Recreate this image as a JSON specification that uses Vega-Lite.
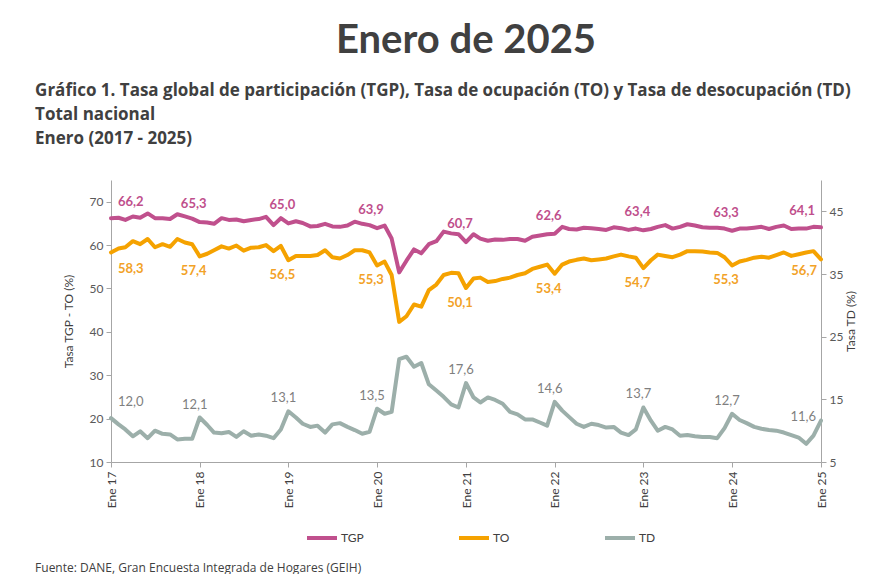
{
  "$schema": "https://vega.github.io/schema/vega-lite/v6.json",
  "background": "white",
  "padding": {"left": 35, "top": 21, "right": 2, "bottom": 0},
  "config": {
    "locale": {"number": {"decimal": ",", "thousands": ".", "grouping": [3], "currency": ["$", ""]}},
    "font": "Lato",
    "view": {"stroke": null},
    "concat": {"spacing": 0},
    "axis": {"grid": false, "domainColor": "#A6A6A6", "tickColor": "#A6A6A6", "labelColor": "#595959", "labelFontSize": 12, "titleColor": "#404040", "titleFontSize": 12, "titleFontWeight": "normal", "tickSize": 5}
  },
  "title": {"text": "Enero de 2025", "fontSize": 40, "font": "Lato", "fontWeight": "bold", "color": "#404040", "anchor": "middle", "dx": 20, "offset": 21},
  "resolve": {"scale": {"color": "independent"}, "legend": {"color": "independent"}},
  "vconcat": [
    {
      "title": {"text": "Fuente: DANE, Gran Encuesta Integrada de Hogares (GEIH)", "orient": "bottom", "anchor": "start", "fontSize": 12, "font": "Open Sans", "fontWeight": "normal", "color": "#404040", "offset": 17},
      "resolve": {"scale": {"color": "independent"}, "legend": {"color": "independent"}},
      "vconcat": [
        {
          "title": {"text": ["Gráfico 1. Tasa global de participación (TGP), Tasa de ocupación (TO) y Tasa de desocupación (TD)", "Total nacional", "Enero (2017 - 2025)"], "anchor": "start", "dx": -27, "fontSize": 17, "font": "Open Sans", "fontWeight": "bold", "lineHeight": 24, "color": "#404040", "offset": 32},
          "width": 710,
          "height": 282,
          "data": {
            "format": {"parse": {"fecha": "date:'%Y-%m'"}},
            "values": [
              {"fecha": "2017-01", "TGP": 66.2, "TO": 58.3, "TD": 12.0},
              {"fecha": "2017-02", "TGP": 66.3, "TO": 59.2, "TD": 11.0},
              {"fecha": "2017-03", "TGP": 65.8, "TO": 59.5, "TD": 10.2},
              {"fecha": "2017-04", "TGP": 66.6, "TO": 60.9, "TD": 9.1},
              {"fecha": "2017-05", "TGP": 66.3, "TO": 60.2, "TD": 9.9},
              {"fecha": "2017-06", "TGP": 67.3, "TO": 61.4, "TD": 8.8},
              {"fecha": "2017-07", "TGP": 66.2, "TO": 59.5, "TD": 10.0},
              {"fecha": "2017-08", "TGP": 66.2, "TO": 60.2, "TD": 9.5},
              {"fecha": "2017-09", "TGP": 66.0, "TO": 59.6, "TD": 9.4},
              {"fecha": "2017-10", "TGP": 67.1, "TO": 61.4, "TD": 8.6},
              {"fecha": "2017-11", "TGP": 66.6, "TO": 60.6, "TD": 8.7},
              {"fecha": "2017-12", "TGP": 66.1, "TO": 60.2, "TD": 8.7},
              {"fecha": "2018-01", "TGP": 65.3, "TO": 57.4, "TD": 12.1},
              {"fecha": "2018-02", "TGP": 65.2, "TO": 58.0, "TD": 10.9},
              {"fecha": "2018-03", "TGP": 64.9, "TO": 58.8, "TD": 9.7},
              {"fecha": "2018-04", "TGP": 66.2, "TO": 59.7, "TD": 9.6},
              {"fecha": "2018-05", "TGP": 65.8, "TO": 59.2, "TD": 9.8},
              {"fecha": "2018-06", "TGP": 65.9, "TO": 59.9, "TD": 9.0},
              {"fecha": "2018-07", "TGP": 65.5, "TO": 58.7, "TD": 9.9},
              {"fecha": "2018-08", "TGP": 65.8, "TO": 59.4, "TD": 9.2},
              {"fecha": "2018-09", "TGP": 66.0, "TO": 59.5, "TD": 9.4},
              {"fecha": "2018-10", "TGP": 66.5, "TO": 60.0, "TD": 9.2},
              {"fecha": "2018-11", "TGP": 64.6, "TO": 58.6, "TD": 8.8},
              {"fecha": "2018-12", "TGP": 66.2, "TO": 59.8, "TD": 10.2},
              {"fecha": "2019-01", "TGP": 65.0, "TO": 56.5, "TD": 13.1},
              {"fecha": "2019-02", "TGP": 65.5, "TO": 57.5, "TD": 12.1},
              {"fecha": "2019-03", "TGP": 65.1, "TO": 57.5, "TD": 11.1},
              {"fecha": "2019-04", "TGP": 64.3, "TO": 57.5, "TD": 10.6},
              {"fecha": "2019-05", "TGP": 64.4, "TO": 57.7, "TD": 10.8},
              {"fecha": "2019-06", "TGP": 64.9, "TO": 58.8, "TD": 9.7},
              {"fecha": "2019-07", "TGP": 64.3, "TO": 57.2, "TD": 11.0},
              {"fecha": "2019-08", "TGP": 64.2, "TO": 56.9, "TD": 11.2},
              {"fecha": "2019-09", "TGP": 64.5, "TO": 57.7, "TD": 10.6},
              {"fecha": "2019-10", "TGP": 65.4, "TO": 58.8, "TD": 10.1},
              {"fecha": "2019-11", "TGP": 64.9, "TO": 58.8, "TD": 9.5},
              {"fecha": "2019-12", "TGP": 64.6, "TO": 58.3, "TD": 9.8},
              {"fecha": "2020-01", "TGP": 63.9, "TO": 55.3, "TD": 13.5},
              {"fecha": "2020-02", "TGP": 64.5, "TO": 56.2, "TD": 12.7},
              {"fecha": "2020-03", "TGP": 61.5, "TO": 53.1, "TD": 13.0},
              {"fecha": "2020-04", "TGP": 53.7, "TO": 42.3, "TD": 21.4},
              {"fecha": "2020-05", "TGP": 56.4, "TO": 43.6, "TD": 21.8},
              {"fecha": "2020-06", "TGP": 59.0, "TO": 46.3, "TD": 20.2},
              {"fecha": "2020-07", "TGP": 58.1, "TO": 45.8, "TD": 20.8},
              {"fecha": "2020-08", "TGP": 60.2, "TO": 49.6, "TD": 17.4},
              {"fecha": "2020-09", "TGP": 60.9, "TO": 50.9, "TD": 16.4},
              {"fecha": "2020-10", "TGP": 63.1, "TO": 53.1, "TD": 15.4},
              {"fecha": "2020-11", "TGP": 62.7, "TO": 53.6, "TD": 14.2},
              {"fecha": "2020-12", "TGP": 62.5, "TO": 53.5, "TD": 13.7},
              {"fecha": "2021-01", "TGP": 60.7, "TO": 50.1, "TD": 17.6},
              {"fecha": "2021-02", "TGP": 62.5, "TO": 52.3, "TD": 15.3},
              {"fecha": "2021-03", "TGP": 61.5, "TO": 52.5, "TD": 14.5},
              {"fecha": "2021-04", "TGP": 61.0, "TO": 51.5, "TD": 15.3},
              {"fecha": "2021-05", "TGP": 61.3, "TO": 51.7, "TD": 14.9},
              {"fecha": "2021-06", "TGP": 61.2, "TO": 52.2, "TD": 14.3},
              {"fecha": "2021-07", "TGP": 61.4, "TO": 52.5, "TD": 13.0},
              {"fecha": "2021-08", "TGP": 61.4, "TO": 53.1, "TD": 12.6},
              {"fecha": "2021-09", "TGP": 61.0, "TO": 53.5, "TD": 11.8},
              {"fecha": "2021-10", "TGP": 61.9, "TO": 54.5, "TD": 11.8},
              {"fecha": "2021-11", "TGP": 62.2, "TO": 55.0, "TD": 11.3},
              {"fecha": "2021-12", "TGP": 62.5, "TO": 55.5, "TD": 10.8},
              {"fecha": "2022-01", "TGP": 62.6, "TO": 53.4, "TD": 14.6},
              {"fecha": "2022-02", "TGP": 64.2, "TO": 55.5, "TD": 13.2},
              {"fecha": "2022-03", "TGP": 63.7, "TO": 56.2, "TD": 12.2},
              {"fecha": "2022-04", "TGP": 63.6, "TO": 56.6, "TD": 11.1},
              {"fecha": "2022-05", "TGP": 64.0, "TO": 56.9, "TD": 10.6},
              {"fecha": "2022-06", "TGP": 63.9, "TO": 56.5, "TD": 11.1},
              {"fecha": "2022-07", "TGP": 63.7, "TO": 56.7, "TD": 10.9},
              {"fecha": "2022-08", "TGP": 63.5, "TO": 56.9, "TD": 10.5},
              {"fecha": "2022-09", "TGP": 64.1, "TO": 57.4, "TD": 10.6},
              {"fecha": "2022-10", "TGP": 63.9, "TO": 57.8, "TD": 9.7},
              {"fecha": "2022-11", "TGP": 63.5, "TO": 57.4, "TD": 9.3},
              {"fecha": "2022-12", "TGP": 63.8, "TO": 57.1, "TD": 10.2},
              {"fecha": "2023-01", "TGP": 63.4, "TO": 54.7, "TD": 13.7},
              {"fecha": "2023-02", "TGP": 63.7, "TO": 56.5, "TD": 11.6},
              {"fecha": "2023-03", "TGP": 64.2, "TO": 57.8, "TD": 10.0},
              {"fecha": "2023-04", "TGP": 64.6, "TO": 57.5, "TD": 10.6},
              {"fecha": "2023-05", "TGP": 63.8, "TO": 57.2, "TD": 10.2},
              {"fecha": "2023-06", "TGP": 64.2, "TO": 57.8, "TD": 9.2},
              {"fecha": "2023-07", "TGP": 64.8, "TO": 58.6, "TD": 9.3},
              {"fecha": "2023-08", "TGP": 64.5, "TO": 58.6, "TD": 9.1},
              {"fecha": "2023-09", "TGP": 64.1, "TO": 58.5, "TD": 9.0},
              {"fecha": "2023-10", "TGP": 64.0, "TO": 58.3, "TD": 9.0},
              {"fecha": "2023-11", "TGP": 64.0, "TO": 58.2, "TD": 8.8},
              {"fecha": "2023-12", "TGP": 63.8, "TO": 57.2, "TD": 10.4},
              {"fecha": "2024-01", "TGP": 63.3, "TO": 55.3, "TD": 12.7},
              {"fecha": "2024-02", "TGP": 63.8, "TO": 56.2, "TD": 11.7},
              {"fecha": "2024-03", "TGP": 63.8, "TO": 56.6, "TD": 11.2},
              {"fecha": "2024-04", "TGP": 64.0, "TO": 57.1, "TD": 10.6},
              {"fecha": "2024-05", "TGP": 64.2, "TO": 57.3, "TD": 10.3},
              {"fecha": "2024-06", "TGP": 63.7, "TO": 57.1, "TD": 10.1},
              {"fecha": "2024-07", "TGP": 64.2, "TO": 57.7, "TD": 10.0},
              {"fecha": "2024-08", "TGP": 64.5, "TO": 58.3, "TD": 9.7},
              {"fecha": "2024-09", "TGP": 63.7, "TO": 57.5, "TD": 9.3},
              {"fecha": "2024-10", "TGP": 63.8, "TO": 57.9, "TD": 8.9},
              {"fecha": "2024-11", "TGP": 63.8, "TO": 58.3, "TD": 7.9},
              {"fecha": "2024-12", "TGP": 64.2, "TO": 58.6, "TD": 9.2},
              {"fecha": "2025-01", "TGP": 64.1, "TO": 56.7, "TD": 11.6}
            ]
          },
          "encoding": {
            "x": {
              "field": "fecha", "type": "temporal",
              "scale": {"domain": [{"year": 2017, "month": 1, "date": 1}, {"year": 2025, "month": 1, "date": 1}], "nice": false},
              "axis": {"title": null, "tickCount": {"interval": "year", "step": 1}, "labelExpr": "'Ene ' + timeFormat(datum.value, '%y')", "labelAngle": -90, "labelColor": "#404040", "labelFontSize": 12, "labelPadding": 4, "labelFlush": false, "labelOverlap": false}
            }
          },
          "layer": [
            {
              "transform": [{"fold": ["TGP", "TO"], "as": ["serie", "valor"]}],
              "encoding": {
                "y": {"field": "valor", "type": "quantitative", "scale": {"domain": [10, 75], "nice": false, "zero": false}, "axis": {"values": [10, 20, 30, 40, 50, 60, 70], "title": "Tasa TGP - TO (%)", "titlePadding": 14, "labelPadding": 3}}
              },
              "layer": [
                {
                  "mark": {"type": "line", "strokeWidth": 4, "strokeJoin": "round", "strokeCap": "round"},
                  "encoding": {
                    "color": {"field": "serie", "type": "nominal", "scale": {"domain": ["TGP", "TO", "TD"], "range": ["#C0508D", "#F5A200", "#9CAFAA"]},
                      "legend": {"orient": "none", "legendX": 194, "legendY": 341, "direction": "horizontal", "title": null, "symbolType": "stroke", "symbolStrokeWidth": 4, "symbolSize": 900, "labelFontSize": 12, "labelColor": "#404040", "labelOffset": 2, "columnPadding": 87}}
                  }
                },
                {
                  "transform": [{"filter": "datum.serie === 'TGP' && month(datum.fecha) === 0 && year(datum.fecha) > 2017 && year(datum.fecha) < 2025"}],
                  "mark": {"type": "text", "dy": -18, "dx": -6, "fontWeight": "bold", "fontSize": 13, "color": "#BF4F8C"},
                  "encoding": {"text": {"field": "valor", "type": "quantitative", "format": ".1f"}}
                },
                {
                  "transform": [{"filter": "datum.serie === 'TGP' && month(datum.fecha) === 0 && year(datum.fecha) === 2017"}],
                  "mark": {"type": "text", "dy": -16, "dx": 7, "align": "left", "fontWeight": "bold", "fontSize": 13, "color": "#BF4F8C"},
                  "encoding": {"text": {"field": "valor", "type": "quantitative", "format": ".1f"}}
                },
                {
                  "transform": [{"filter": "datum.serie === 'TGP' && month(datum.fecha) === 0 && year(datum.fecha) === 2025"}],
                  "mark": {"type": "text", "dy": -16, "dx": -6, "align": "right", "fontWeight": "bold", "fontSize": 13, "color": "#BF4F8C"},
                  "encoding": {"text": {"field": "valor", "type": "quantitative", "format": ".1f"}}
                },
                {
                  "transform": [{"filter": "datum.serie === 'TO' && month(datum.fecha) === 0 && year(datum.fecha) > 2017 && year(datum.fecha) < 2025"}],
                  "mark": {"type": "text", "dy": 15, "dx": -6, "fontWeight": "bold", "fontSize": 13, "color": "#F2A227"},
                  "encoding": {"text": {"field": "valor", "type": "quantitative", "format": ".1f"}}
                },
                {
                  "transform": [{"filter": "datum.serie === 'TO' && month(datum.fecha) === 0 && year(datum.fecha) === 2017"}],
                  "mark": {"type": "text", "dy": 17, "dx": 7, "align": "left", "fontWeight": "bold", "fontSize": 13, "color": "#F2A227"},
                  "encoding": {"text": {"field": "valor", "type": "quantitative", "format": ".1f"}}
                },
                {
                  "transform": [{"filter": "datum.serie === 'TO' && month(datum.fecha) === 0 && year(datum.fecha) === 2025"}],
                  "mark": {"type": "text", "dy": 12, "dx": -4, "align": "right", "fontWeight": "bold", "fontSize": 13, "color": "#F2A227"},
                  "encoding": {"text": {"field": "valor", "type": "quantitative", "format": ".1f"}}
                }
              ]
            },
            {
              "encoding": {
                "y": {"field": "TD", "type": "quantitative", "scale": {"domain": [5, 50], "nice": false, "zero": false}, "axis": {"orient": "right", "values": [5, 15, 25, 35, 45], "title": "Tasa TD (%)", "titleAngle": 270, "titlePadding": 15, "labelPadding": 3}}
              },
              "layer": [
                {
                  "mark": {"type": "line", "strokeWidth": 4, "strokeJoin": "round", "strokeCap": "round"},
                  "encoding": {"color": {"datum": "TD", "type": "nominal"}}
                },
                {
                  "transform": [{"filter": "month(datum.fecha) === 0 && year(datum.fecha) > 2017 && year(datum.fecha) < 2025"}],
                  "mark": {"type": "text", "dy": -13, "dx": -5, "fontSize": 13, "color": "#7F7F7F"},
                  "encoding": {"text": {"field": "TD", "type": "quantitative", "format": ".1f"}}
                },
                {
                  "transform": [{"filter": "month(datum.fecha) === 0 && year(datum.fecha) === 2017"}],
                  "mark": {"type": "text", "dy": -16, "dx": 7, "align": "left", "fontSize": 13, "color": "#7F7F7F"},
                  "encoding": {"text": {"field": "TD", "type": "quantitative", "format": ".1f"}}
                },
                {
                  "transform": [{"filter": "month(datum.fecha) === 0 && year(datum.fecha) === 2025"}],
                  "mark": {"type": "text", "dy": -4, "dx": -5, "align": "right", "fontSize": 13, "color": "#7F7F7F"},
                  "encoding": {"text": {"field": "TD", "type": "quantitative", "format": ".1f"}}
                }
              ]
            }
          ],
          "resolve": {"scale": {"y": "independent"}}
        }
      ]
    }
  ]
}
